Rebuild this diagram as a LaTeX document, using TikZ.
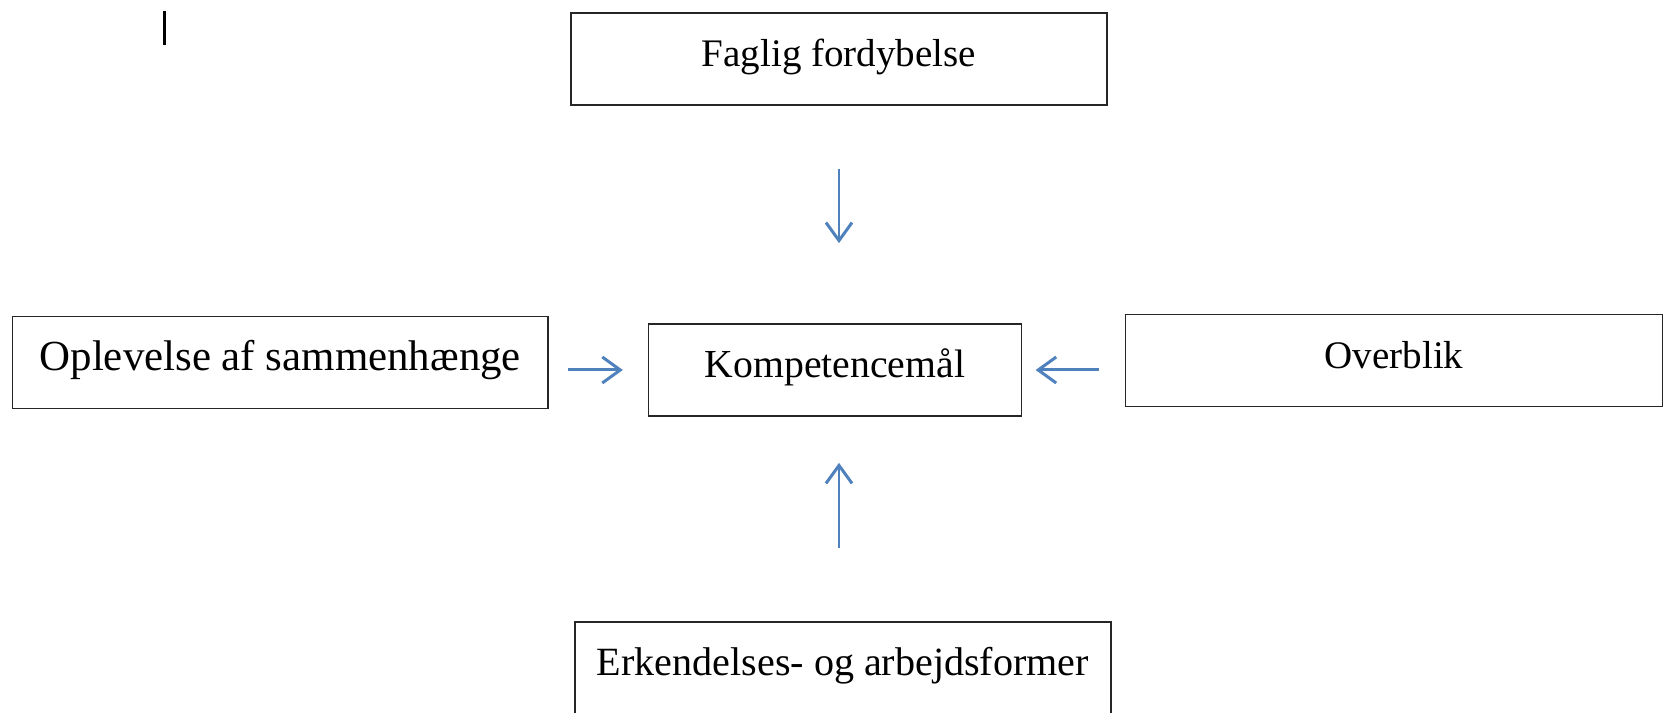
\documentclass[tikz,border=0pt]{standalone}
\usepackage{fontspec}
\setmainfont{Liberation Serif}
\usetikzlibrary{arrows.meta}
\definecolor{pilblaa}{RGB}{79,129,189}

\begin{document}
\begin{tikzpicture}[x=0.01cm, y=-0.01cm,
  boks/.style={draw=black!85, line width=0.45pt, inner sep=0pt, text height=0.54cm, text depth=0.38cm, minimum width=#1},
  pil/.style={draw=pilblaa, line width=0.85pt, -{Straight Barb[length=0.18cm, width=0.26cm, line width=0.85pt]}}]
\useasboundingbox (0,0) rectangle (1665,713);
\node[boks=5.355cm, font=\fontsize{11.1}{13}\selectfont] (faglig) at (839,59) {Faglig fordybelse};
\node[boks=5.353cm, font=\fontsize{12.2}{14}\selectfont] (opl) at (280.3,362.5) {Oplevelse af sammenhænge};
\node[boks=3.725cm, font=\fontsize{11.3}{13}\selectfont] (komp) at (835,370) {Kompetencemål};
\node[boks=5.364cm, font=\fontsize{11.1}{13}\selectfont] (ovr) at (1394,360.5) {Overblik};
\node[boks=5.355cm, font=\fontsize{11.4}{13}\selectfont] (erk) at (843,668) {Erkendelses- og arbejdsformer};

\draw[line width=0.9pt] (164.6,10.6) -- (164.6,44.6);

\draw[pil, shorten <=0.63cm, shorten >=0.8cm] (faglig.south) -- (faglig.south |- komp.north);
\draw[pil, shorten <=0.73cm, shorten >=0.46cm] (faglig.south |- erk.north) -- (faglig.south |- komp.south);
\draw[pil, shorten <=0.19cm, shorten >=0.25cm] (opl.east |- komp) -- (komp.west);
\draw[pil, shorten <=0.256cm, shorten >=0.135cm] (ovr.west |- komp) -- (komp.east);
\end{tikzpicture}
\end{document}
